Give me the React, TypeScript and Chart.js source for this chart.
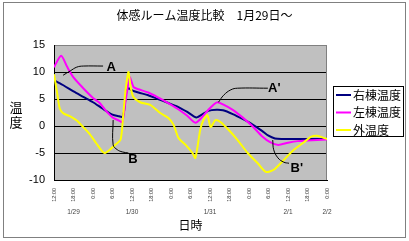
import React, { useEffect, useRef } from "react";
import { Chart, registerables } from "chart.js";

Chart.register(...registerables);

// ---------- data ----------
const TITLE = "体感ルーム温度比較　1月29日～";
const SERIES_NAMES = ["右棟温度", "左棟温度", "外温度"];
const SERIES_COLORS = ["#000080", "#FF00FF", "#FFFF00"];
const X_AXIS_TITLE = "日時";
const Y_AXIS_TITLE = ["温", "度"];

// hours since 1/29 12:00
const X_TICK_HOURS = [0, 6, 12, 18, 24, 30, 36, 42, 48, 54, 60, 66, 72, 78, 84];
const X_TICK_LABELS = [
  "12:00", "18:00", "0:00", "6:00", "12:00", "18:00", "0:00", "6:00",
  "12:00", "18:00", "0:00", "6:00", "12:00", "18:00", "0:00",
];
const DATE_TICK_HOURS = [6, 24, 48, 72, 84];
const DATE_LABELS = ["1/29", "1/30", "1/31", "2/1", "2/2"];

// 右棟温度
const rightHours = [0.5, 3, 6, 9, 12, 15, 18, 20, 21, 21.5, 22.3, 23, 24, 26, 29, 32, 35, 38, 41, 43, 44, 45.5, 47.5, 50, 52, 55, 58, 61, 64, 66, 68, 70, 75, 80, 84];
const rightTemps = [8.3, 7.5, 6.4, 5.4, 4.4, 3.2, 2.1, 1.8, 1.7, 2.5, 6.5, 7.0, 6.6, 6.2, 5.7, 5.0, 4.3, 3.6, 2.6, 1.8, 1.6, 2.1, 2.8, 3.0, 2.9, 2.2, 1.3, 0.3, -0.9, -1.8, -2.3, -2.4, -2.4, -2.4, -2.4];

// 左棟温度
const leftHours = [0, 2.2, 4, 6, 9, 12, 14, 16, 18, 20, 21, 22, 23.3, 24.5, 26, 29, 32, 35, 38, 41, 43.5, 45.5, 47.5, 49, 50.3, 52, 55, 58, 61, 64, 66.5, 69, 72, 75, 78, 81, 84];
const leftTemps = [10.9, 13.0, 11.0, 9.0, 7.0, 5.2, 4.3, 2.8, 1.6, 1.0, 0.7, 4.5, 9.0, 7.2, 6.8, 6.2, 5.3, 4.3, 3.2, 1.9, 0.6, 1.6, 3.0, 3.9, 4.4, 4.0, 3.0, 1.6, 0.0, -1.9, -3.0, -3.5, -3.1, -2.8, -2.7, -2.6, -2.5];

// 外温度
const outHours = [0, 1, 1.8, 3, 5, 7, 9, 11, 13, 15, 15.7, 17, 19, 20.5, 21.3, 22, 22.9, 23.5, 24.4, 26.5, 29.6, 32.7, 35.2, 36.8, 38.3, 40.5, 42.6, 43.5, 45, 46, 47.2, 48.2, 49.7, 51.3, 53.7, 56.5, 59.6, 62.7, 65.2, 67.6, 70.7, 73.8, 76.9, 79, 81, 83, 84];
const outTemps = [9.6, 6.0, 3.2, 2.3, 1.8, 1.0, -0.2, -1.5, -3.2, -4.8, -5.0, -4.5, -3.4, -2.5, 2.0, 6.5, 10.0, 7.5, 5.4, 4.4, 3.9, 2.4, 1.5, 0.2, -2.2, -3.5, -5.0, -5.9, -0.7, 1.1, 2.0, -0.2, 1.1, 0.7, -0.7, -2.6, -5.0, -6.9, -8.5, -8.1, -6.3, -4.4, -3.0, -2.0, -1.8, -2.2, -2.4];

// callouts (in chart units)
const CALLOUT_NAMES = ["A", "B", "A'", "B'"];
const calloutHours = [
  [2.8, 5, 7, 9, 15.1],
  [18.2, 18.2, 19.5, 21, 22.9],
  [50.6, 52.2, 54.4, 56.5, 65.8],
  [67.3, 67.6, 68.9, 70.7, 72.3],
];
const calloutTemps = [
  [9.4, 10.2, 10.9, 11.1, 11.1],
  [1.1, -3.5, -4.4, -4.8, -5.0],
  [4.4, 5.7, 6.7, 7.0, 7.0],
  [-2.6, -4.4, -5.9, -6.7, -6.9],
];
const calloutLabelHours = [17.6, 24.3, 67.8, 74.7];
const calloutLabelTemps = [10.8, -6.2, 7.0, -7.9];

const toPoints = (xs: number[], ys: number[]) => xs.map((x, i) => ({ x, y: ys[i] }));

const CJK = "'Noto Sans CJK JP', 'Noto Sans', sans-serif";
const LAT = "'Liberation Sans', Arial, sans-serif";

export default function App() {
  const ref = useRef<HTMLCanvasElement | null>(null);

  useEffect(() => {
    const canvas = ref.current;
    if (!canvas) return;

    const framePlugin = {
      id: "frame",
      beforeDraw(chart: any) {
        const { ctx, chartArea: a } = chart;
        ctx.save();
        ctx.fillStyle = "#ffffff";
        ctx.fillRect(0, 0, chart.width, chart.height);
        ctx.strokeStyle = "#808080";
        ctx.lineWidth = 1;
        ctx.strokeRect(3.5, 2.5, 402, 235);
        ctx.fillStyle = "#C0C0C0";
        ctx.fillRect(a.left, a.top, a.right - a.left, a.bottom - a.top);
        ctx.restore();
      },
      beforeDatasetsDraw(chart: any) {
        const { ctx, chartArea: a } = chart;
        ctx.save();
        ctx.strokeStyle = "#808080";
        ctx.lineWidth = 1;
        ctx.beginPath();
        ctx.moveTo(Math.round(a.right) - 0.5, a.top);
        ctx.lineTo(Math.round(a.right) - 0.5, a.bottom);
        ctx.stroke();
        ctx.restore();
      },
      afterDraw(chart: any) {
        const { ctx, chartArea: a, scales } = chart;
        ctx.save();
        // y title, stacked upright
        ctx.fillStyle = "#000";
        ctx.font = `13px ${CJK}`;
        ctx.textAlign = "center";
        ctx.textBaseline = "middle";
        Y_AXIS_TITLE.forEach((c, i) => ctx.fillText(c, 16, 107 + i * 15));

        // legend
        const lx = a.right + 6;
        const ly = 86.5;
        ctx.strokeStyle = "#000";
        ctx.lineWidth = 1;
        ctx.strokeRect(Math.round(lx) + 0.5, ly, 70, 50);
        ctx.font = `12px ${CJK}`;
        ctx.textAlign = "left";
        SERIES_NAMES.forEach((name, i) => {
          const y = ly + 8.5 + i * 17.5;
          ctx.strokeStyle = SERIES_COLORS[i];
          ctx.lineWidth = 2;
          ctx.beginPath();
          ctx.moveTo(lx + 3, y);
          ctx.lineTo(lx + 18, y);
          ctx.stroke();
          ctx.fillStyle = "#000";
          ctx.fillText(name, lx + 20, y);
        });

        // callout labels
        ctx.font = `bold 13px ${LAT}`;
        ctx.textAlign = "center";
        CALLOUT_NAMES.forEach((n, i) => {
          const x = scales.x.getPixelForValue(calloutLabelHours[i]);
          const y = scales.y.getPixelForValue(calloutLabelTemps[i]);
          ctx.fillText(n, x, y);
        });
        ctx.restore();
      },
    };

    const seriesDatasets = [
      { h: rightHours, t: rightTemps },
      { h: leftHours, t: leftTemps },
      { h: outHours, t: outTemps },
    ].map((s, i) => ({
      label: SERIES_NAMES[i],
      data: toPoints(s.h, s.t),
      borderColor: SERIES_COLORS[i],
      backgroundColor: SERIES_COLORS[i],
      borderWidth: 2,
      pointRadius: 0,
      tension: 0.25,
      order: 3 - i,
    }));

    const calloutDatasets = CALLOUT_NAMES.map((n, i) => ({
      label: n,
      data: toPoints(calloutHours[i], calloutTemps[i]),
      borderColor: "#000",
      borderWidth: 1,
      pointRadius: 0,
      tension: 0.4,
      order: 0,
    }));

    const chart = new Chart(canvas, {
      type: "line",
      data: { datasets: [...seriesDatasets, ...calloutDatasets] as any },
      plugins: [framePlugin],
      options: {
        animation: false,
        responsive: false,
        layout: { padding: 0 },
        plugins: {
          legend: { display: false },
          tooltip: { enabled: false },
          title: {
            display: true,
            text: TITLE,
            color: "#000",
            font: { family: CJK, size: 12, weight: "normal" },
            padding: { top: 8, bottom: 22.6 },
          },
        },
        scales: {
          x: {
            type: "linear",
            min: 0,
            max: 84,
            afterBuildTicks: (s: any) => {
              s.ticks = X_TICK_HOURS.map((v) => ({ value: v }));
            },
            afterFit: (s: any) => {
              s.height = 22;
            },
            ticks: {
              autoSkip: false,
              minRotation: 90,
              maxRotation: 90,
              padding: 8,
              color: "#333",
              font: { family: LAT, size: 5.5 },
              callback: (_v: any, i: number) => X_TICK_LABELS[i],
            },
            grid: { display: false, drawTicks: false },
            border: { display: true, color: "#000", width: 1 },
          },
          x2: {
            type: "linear",
            position: "bottom",
            weight: 1,
            min: 0,
            max: 84,
            afterBuildTicks: (s: any) => {
              s.ticks = DATE_TICK_HOURS.map((v) => ({ value: v }));
            },
            afterFit: (s: any) => {
              s.height = 39;
            },
            ticks: {
              autoSkip: false,
              maxRotation: 0,
              minRotation: 0,
              padding: 6.8,
              color: "#444",
              font: { family: LAT, size: 6.5 },
              callback: (_v: any, i: number) => DATE_LABELS[i],
            },
            grid: { display: false, drawTicks: false },
            border: { display: false },
            title: {
              display: true,
              text: X_AXIS_TITLE,
              color: "#000",
              font: { family: CJK, size: 12 },
              padding: { top: 0, bottom: 8.8 },
            },
          },
          y: {
            type: "linear",
            min: -10,
            max: 15,
            afterFit: (s: any) => {
              s.width = 54;
            },
            ticks: {
              stepSize: 5,
              padding: 9,
              color: "#000",
              font: { family: LAT, size: 11 },
            },
            grid: {
              drawTicks: false,
              lineWidth: 1,
              color: (c: any) =>
                c.tick && c.tick.value === 15
                  ? "#808080"
                  : c.tick && c.tick.value === -10
                  ? "rgba(0,0,0,0)"
                  : "#000",
            },
            border: { display: true, color: "#000", width: 1 },
          },
          yRight: {
            type: "linear",
            position: "right",
            min: -10,
            max: 15,
            afterFit: (s: any) => {
              s.width = 82;
            },
            ticks: { display: false },
            grid: { display: false, drawTicks: false },
            border: { display: false },
          },
        },
      } as any,
    });

    return () => chart.destroy();
  }, []);

  return (
    <div style={{ position: "fixed", left: 0, top: 0, width: 409, height: 241, background: "#fff" }}>
      <canvas ref={ref} width={409} height={241} style={{ display: "block" }} />
    </div>
  );
}
